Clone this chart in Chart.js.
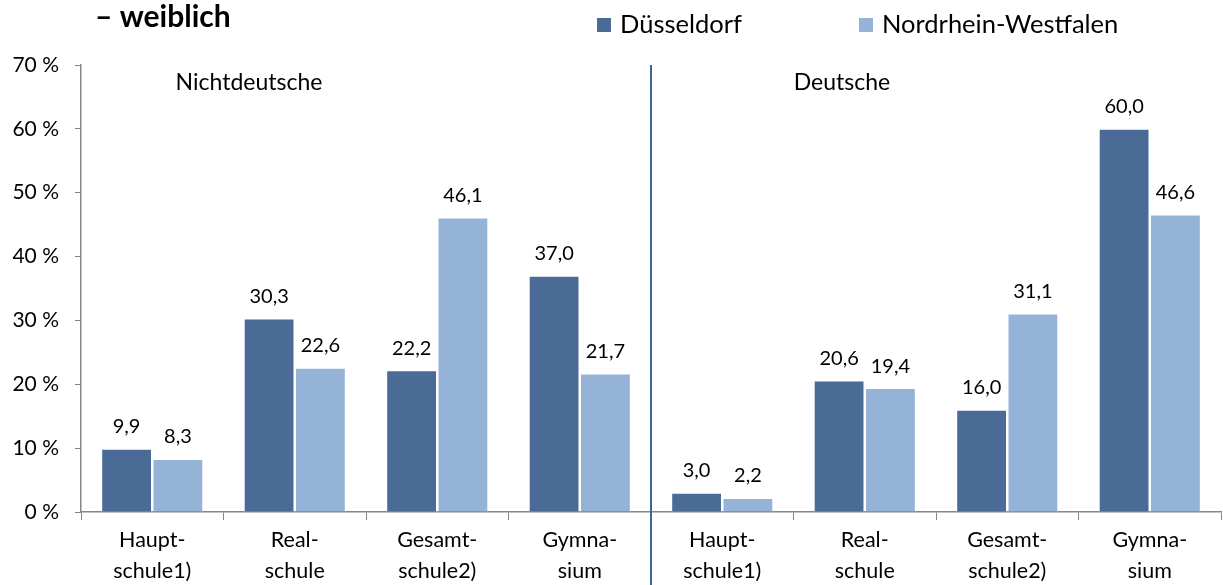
<!DOCTYPE html>
<html>
<head>
<meta charset="utf-8">
<script src="https://cdn.jsdelivr.net/npm/chart.js@4"></script>
<style>
  html, body { margin: 0; padding: 0; background: #fff; }
  #wrap { position: relative; width: 1223px; height: 585px; }
</style>
</head>
<body>
<div id="wrap"><canvas id="chart"></canvas></div>
<script>
const categories = [
  ['Haupt-', 'schule1)'], ['Real-', 'schule'], ['Gesamt-', 'schule2)'], ['Gymna-', 'sium'],
  ['Haupt-', 'schule1)'], ['Real-', 'schule'], ['Gesamt-', 'schule2)'], ['Gymna-', 'sium']
];
const duesseldorf = [9.9, 30.3, 22.2, 37.0, 3.0, 20.6, 16.0, 60.0];
const nrw = [8.3, 22.6, 46.1, 21.7, 2.2, 19.4, 31.1, 46.6];
const seriesNames = ['Düsseldorf', 'Nordrhein-Westfalen'];
const groupNames = ['Nichtdeutsche', 'Deutsche'];
const title = '– weiblich';

const FONT = 'Lato, Calibri, sans-serif';
const DARK = '#4A6B96';
const LIGHT = '#95B3D7';

// title, legend, group labels, divider and value labels
const overlay = {
  id: 'overlay',
  afterDatasetsDraw(chart) {
    const { ctx, chartArea, scales } = chart;
    ctx.save();

    // value labels
    ctx.font = '20px ' + FONT;
    ctx.fillStyle = '#000';
    ctx.textAlign = 'center';
    ctx.textBaseline = 'bottom';
    chart.data.datasets.forEach((ds, i) => {
      chart.getDatasetMeta(i).data.forEach((bar, j) => {
        ctx.fillText(ds.data[j].toFixed(1).replace('.', ','), bar.x, bar.y - 12);
      });
    });

    // divider between the two groups
    const x = scales.x;
    const mid = (x.getPixelForValue(3) + x.getPixelForValue(4)) / 2;
    ctx.strokeStyle = '#3E6596';
    ctx.lineWidth = 2;
    ctx.beginPath();
    ctx.moveTo(mid, chartArea.top);
    ctx.lineTo(mid, chart.height);
    ctx.stroke();

    // group labels
    ctx.font = '23px ' + FONT;
    ctx.textBaseline = 'middle';
    ctx.fillText(groupNames[0], 249, 83);
    ctx.fillText(groupNames[1], 842, 83);

    // title
    ctx.font = 'bold 30px ' + FONT;
    ctx.textAlign = 'left';
    ctx.fillText(title, 95, 17);

    // legend
    ctx.font = '25.5px ' + FONT;
    const items = [[597, DARK], [859, LIGHT]];
    items.forEach(([lx, col], i) => {
      ctx.fillStyle = col;
      ctx.fillRect(lx, 18, 14, 14);
      ctx.fillStyle = '#000';
      ctx.fillText(seriesNames[i], lx + 23, 25);
    });

    ctx.restore();
  }
};

new Chart(document.getElementById('chart'), {
  type: 'bar',
  data: {
    labels: categories,
    datasets: [
      { label: seriesNames[0], data: duesseldorf, backgroundColor: DARK, borderColor: '#fff', borderWidth: 1 },
      { label: seriesNames[1], data: nrw, backgroundColor: LIGHT, borderColor: '#fff', borderWidth: 1 }
    ]
  },
  options: {
    responsive: true,
    maintainAspectRatio: false,
    animation: false,
    layout: { padding: { top: 65, right: 2, left: 0, bottom: 0 } },
    categoryPercentage: 0.72,
    barPercentage: 0.99,
    plugins: { legend: { display: false }, title: { display: false }, tooltip: { enabled: false } },
    scales: {
      y: {
        min: 0,
        max: 70,
        ticks: {
          stepSize: 10,
          color: '#000',
          padding: 16,
          font: { family: FONT, size: 21 },
          callback: v => v + ' %'
        },
        grid: { drawOnChartArea: false, drawTicks: true, tickLength: 6, color: '#868686' },
        border: { color: '#868686', width: 1.5 },
        afterFit(scale) { scale.width = 81; }
      },
      x: {
        ticks: {
          color: '#000',
          padding: 4,
          maxRotation: 0,
          autoSkip: false,
          font: { family: FONT, size: 21.5, lineHeight: 1.45 }
        },
        grid: { drawOnChartArea: false, drawTicks: true, tickLength: 8, offset: true, color: '#868686' },
        border: { color: '#868686', width: 1.5 },
        afterFit(scale) { scale.height = 73; }
      }
    }
  },
  plugins: [overlay]
});
</script>
</body>
</html>
